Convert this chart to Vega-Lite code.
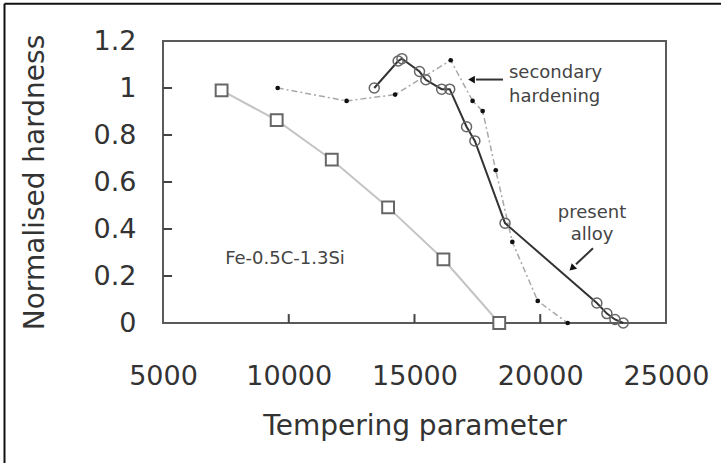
{
  "$schema": "https://vega.github.io/schema/vega-lite/v6.json",
  "width": 503,
  "height": 282,
  "autosize": {"type": "none"},
  "padding": {"left": 163, "top": 41, "right": 55, "bottom": 140},
  "background": "white",
  "config": {
    "font": "DejaVu Sans",
    "view": {"stroke": "#5a5a5a", "strokeWidth": 2}
  },
  "datasets": {
    "series": [
      {"series": "Fe-0.5C-1.3Si", "param": 7330, "hardness": 0.99},
      {"series": "Fe-0.5C-1.3Si", "param": 9520, "hardness": 0.863},
      {"series": "Fe-0.5C-1.3Si", "param": 11710, "hardness": 0.695},
      {"series": "Fe-0.5C-1.3Si", "param": 13950, "hardness": 0.492},
      {"series": "Fe-0.5C-1.3Si", "param": 16150, "hardness": 0.271},
      {"series": "Fe-0.5C-1.3Si", "param": 18370, "hardness": 0.0},
      {"series": "secondary hardening", "param": 9560, "hardness": 1.0},
      {"series": "secondary hardening", "param": 12300, "hardness": 0.945},
      {"series": "secondary hardening", "param": 14230, "hardness": 0.972},
      {"series": "secondary hardening", "param": 16440, "hardness": 1.118},
      {"series": "secondary hardening", "param": 17310, "hardness": 0.945},
      {"series": "secondary hardening", "param": 17710, "hardness": 0.902},
      {"series": "secondary hardening", "param": 18230, "hardness": 0.65},
      {"series": "secondary hardening", "param": 18890, "hardness": 0.345},
      {"series": "secondary hardening", "param": 19900, "hardness": 0.094},
      {"series": "secondary hardening", "param": 21090, "hardness": 0.0},
      {"series": "present alloy", "param": 13400, "hardness": 1.0},
      {"series": "present alloy", "param": 14350, "hardness": 1.115},
      {"series": "present alloy", "param": 14500, "hardness": 1.125},
      {"series": "present alloy", "param": 15200, "hardness": 1.07},
      {"series": "present alloy", "param": 15450, "hardness": 1.035},
      {"series": "present alloy", "param": 16080, "hardness": 0.995},
      {"series": "present alloy", "param": 16400, "hardness": 0.995},
      {"series": "present alloy", "param": 17070, "hardness": 0.835},
      {"series": "present alloy", "param": 17400, "hardness": 0.775},
      {"series": "present alloy", "param": 18600, "hardness": 0.425},
      {"series": "present alloy", "param": 22250, "hardness": 0.085},
      {"series": "present alloy", "param": 22650, "hardness": 0.04},
      {"series": "present alloy", "param": 22970, "hardness": 0.015},
      {"series": "present alloy", "param": 23300, "hardness": 0.0}
    ],
    "xticks": [
      {"param": 10000, "hardness": 0, "hardness2": 0.038},
      {"param": 15000, "hardness": 0, "hardness2": 0.038},
      {"param": 20000, "hardness": 0, "hardness2": 0.038}
    ],
    "yticks": [
      {"hardness": 0.2, "param": 5000, "param2": 5360},
      {"hardness": 0.4, "param": 5000, "param2": 5360},
      {"hardness": 0.6, "param": 5000, "param2": 5360},
      {"hardness": 0.8, "param": 5000, "param2": 5360},
      {"hardness": 1.0, "param": 5000, "param2": 5360}
    ],
    "labels_left": [
      {"text": "secondary", "param": 18757, "hardness": 1.041},
      {"text": "hardening", "param": 18757, "hardness": 0.939}
    ],
    "labels_center": [
      {"text": "present", "param": 22058, "hardness": 0.446},
      {"text": "alloy", "param": 22058, "hardness": 0.352},
      {"text": "Fe-0.5C-1.3Si", "param": 9851, "hardness": 0.25}
    ],
    "arrow_lines": [
      {"arrow": "secondary hardening", "param": 18519, "hardness": 1.036, "param2": 17445, "hardness2": 1.036},
      {"arrow": "present alloy", "param": 22097, "hardness": 0.318, "param2": 21421, "hardness2": 0.25}
    ],
    "frame": [
      {"edge": "top", "param": -1302, "hardness": 1.359, "param2": 30000, "hardness2": 1.359},
      {"edge": "left", "param": -1302, "hardness": 1.359, "param2": -1302, "hardness2": -1.0}
    ]
  },
  "layer": [
    {
      "data": {"name": "series"},
      "transform": [{"filter": "datum.series === 'Fe-0.5C-1.3Si'"}],
      "mark": {"type": "line", "color": "#c4c4c4", "strokeWidth": 2},
      "encoding": {
        "x": {
          "field": "param", "type": "quantitative",
          "scale": {"domain": [5000, 25000], "nice": false, "zero": false},
          "axis": {
            "values": [5000, 10000, 15000, 20000, 25000],
            "format": "d",
            "ticks": false,
            "domain": false,
            "grid": false,
            "labelFont": "DejaVu Sans",
            "labelFontSize": 27,
            "labelColor": "#333",
            "labelFlush": false,
            "labelPadding": 40,
            "title": "Tempering parameter",
            "titleFont": "DejaVu Sans",
            "titleFontSize": 28,
            "titleFontWeight": "normal",
            "titleColor": "#333",
            "titleX": 251.5,
            "titleY": 111,
            "titleAlign": "center",
            "titleBaseline": "alphabetic"
          }
        },
        "y": {
          "field": "hardness", "type": "quantitative",
          "scale": {"domain": [0, 1.2], "nice": false, "zero": false},
          "axis": {
            "values": [0, 0.2, 0.4, 0.6, 0.8, 1, 1.2],
            "format": ".1~f",
            "ticks": false,
            "domain": false,
            "grid": false,
            "labelFont": "DejaVu Sans",
            "labelFontSize": 27,
            "labelColor": "#333",
            "labelFlush": false,
            "labelPadding": 27,
            "title": "Normalised hardness",
            "titleFont": "DejaVu Sans",
            "titleFontSize": 28,
            "titleFontWeight": "normal",
            "titleColor": "#333",
            "titleX": -120,
            "titleY": 141,
            "titleAngle": -90,
            "titleAlign": "center",
            "titleBaseline": "alphabetic"
          }
        }
      }
    },
    {
      "data": {"name": "xticks"},
      "mark": {"type": "rule", "color": "#444", "strokeWidth": 2},
      "encoding": {
        "x": {"field": "param", "type": "quantitative"},
        "y": {"field": "hardness", "type": "quantitative"},
        "y2": {"field": "hardness2"}
      }
    },
    {
      "data": {"name": "yticks"},
      "mark": {"type": "rule", "color": "#444", "strokeWidth": 2},
      "encoding": {
        "x": {"field": "param", "type": "quantitative"},
        "x2": {"field": "param2"},
        "y": {"field": "hardness", "type": "quantitative"}
      }
    },
    {
      "data": {"name": "frame"},
      "mark": {"type": "rule", "color": "#111", "strokeWidth": 2, "clip": false},
      "encoding": {
        "x": {"field": "param", "type": "quantitative"},
        "y": {"field": "hardness", "type": "quantitative"},
        "x2": {"field": "param2"},
        "y2": {"field": "hardness2"}
      }
    },
    {
      "data": {"name": "series"},
      "transform": [{"filter": "datum.series === 'secondary hardening'"}],
      "mark": {"type": "line", "color": "#a8a8a8", "strokeWidth": 1.5, "strokeDash": [6, 3, 2, 3]},
      "encoding": {
        "x": {"field": "param", "type": "quantitative"},
        "y": {"field": "hardness", "type": "quantitative"}
      }
    },
    {
      "data": {"name": "series"},
      "transform": [{"filter": "datum.series === 'present alloy'"}],
      "mark": {"type": "line", "color": "#333", "strokeWidth": 2},
      "encoding": {
        "x": {"field": "param", "type": "quantitative"},
        "y": {"field": "hardness", "type": "quantitative"}
      }
    },
    {
      "data": {"name": "series"},
      "transform": [{"filter": "datum.series === 'Fe-0.5C-1.3Si'"}],
      "mark": {"type": "point", "shape": "square", "size": 140, "filled": false, "fill": "white", "fillOpacity": 1, "stroke": "#666", "strokeWidth": 2, "opacity": 1},
      "encoding": {
        "x": {"field": "param", "type": "quantitative"},
        "y": {"field": "hardness", "type": "quantitative"}
      }
    },
    {
      "data": {"name": "series"},
      "transform": [{"filter": "datum.series === 'secondary hardening'"}],
      "mark": {"type": "point", "shape": "circle", "size": 22, "filled": true, "color": "#111", "opacity": 1},
      "encoding": {
        "x": {"field": "param", "type": "quantitative"},
        "y": {"field": "hardness", "type": "quantitative"}
      }
    },
    {
      "data": {"name": "series"},
      "transform": [{"filter": "datum.series === 'present alloy'"}],
      "mark": {"type": "point", "shape": "circle", "size": 100, "filled": false, "stroke": "#666", "strokeWidth": 1.5, "opacity": 1},
      "encoding": {
        "x": {"field": "param", "type": "quantitative"},
        "y": {"field": "hardness", "type": "quantitative"}
      }
    },
    {
      "data": {"name": "arrow_lines"},
      "mark": {"type": "rule", "color": "#333", "strokeWidth": 2},
      "encoding": {
        "x": {"field": "param", "type": "quantitative"},
        "y": {"field": "hardness", "type": "quantitative"},
        "x2": {"field": "param2"},
        "y2": {"field": "hardness2"}
      }
    },
    {
      "data": {"values": [{"arrow": "secondary hardening", "param": 17267, "hardness": 1.036}]},
      "mark": {"type": "point", "shape": "triangle-up", "angle": 270, "size": 60, "filled": true, "color": "#111", "opacity": 1},
      "encoding": {
        "x": {"field": "param", "type": "quantitative"},
        "y": {"field": "hardness", "type": "quantitative"}
      }
    },
    {
      "data": {"values": [{"arrow": "present alloy", "param": 21262, "hardness": 0.233}]},
      "mark": {"type": "point", "shape": "triangle-up", "angle": 226, "size": 60, "filled": true, "color": "#111", "opacity": 1},
      "encoding": {
        "x": {"field": "param", "type": "quantitative"},
        "y": {"field": "hardness", "type": "quantitative"}
      }
    },
    {
      "data": {"name": "labels_left"},
      "mark": {"type": "text", "align": "left", "baseline": "alphabetic", "fontSize": 18, "color": "#444", "font": "DejaVu Sans"},
      "encoding": {
        "x": {"field": "param", "type": "quantitative"},
        "y": {"field": "hardness", "type": "quantitative"},
        "text": {"field": "text"}
      }
    },
    {
      "data": {"name": "labels_center"},
      "mark": {"type": "text", "align": "center", "baseline": "alphabetic", "fontSize": 18, "color": "#444", "font": "DejaVu Sans"},
      "encoding": {
        "x": {"field": "param", "type": "quantitative"},
        "y": {"field": "hardness", "type": "quantitative"},
        "text": {"field": "text"}
      }
    }
  ]
}
